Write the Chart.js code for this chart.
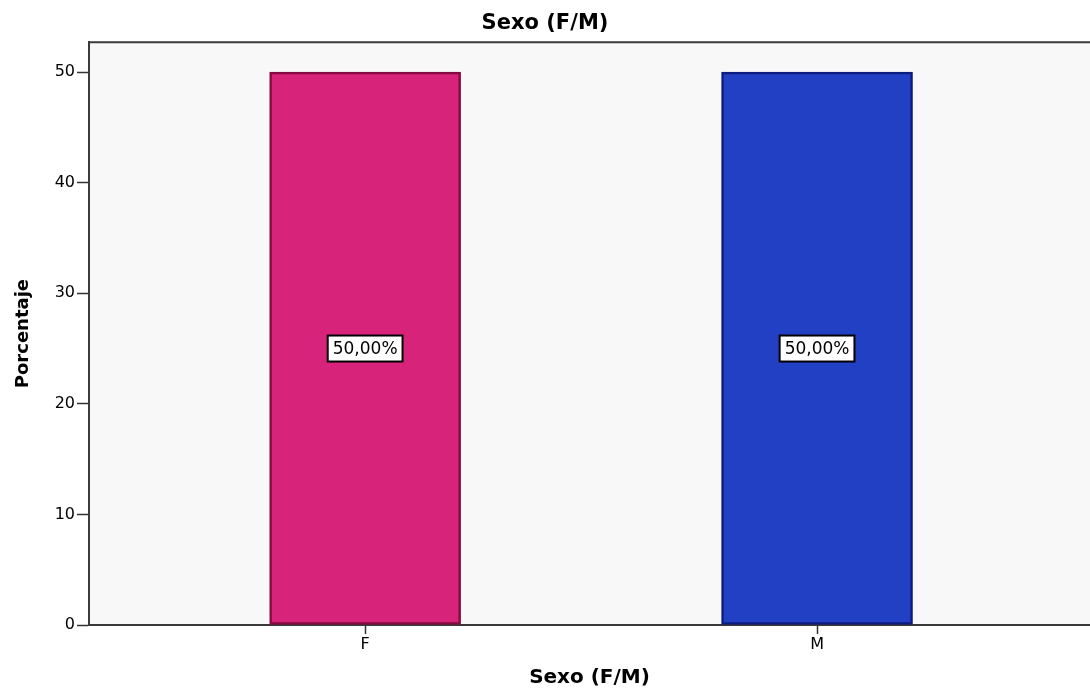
<!DOCTYPE html>
<html>
<head>
<meta charset="utf-8">
<title>Sexo (F/M)</title>
<script src="https://cdn.jsdelivr.net/npm/chart.js@4.4.1/dist/chart.umd.min.js"></script>
<style>
    html, body { margin: 0; padding: 0; background: #fff; overflow: hidden; }
    canvas { display: block; }
</style>
</head>
<body>
<canvas id="sexoChart" width="1090" height="691"></canvas>
<script>
// Chart data
const categorias = ['F', 'M'];
const posiciones = [1, 2];
const porcentajes = [50, 50];
const etiquetas = ['50,00%', '50,00%'];
const yTicks = [0, 10, 20, 30, 40, 50];

const colores = ['#d8237a', '#2240c4'];
const bordes = ['#850a3f', '#0d1c80'];

Chart.defaults.font.family = "'DejaVu Sans', sans-serif";
Chart.defaults.color = '#000';

// Plot background and top frame line
const plotFrame = {
    id: 'plotFrame',
    beforeDraw(chart) {
        const { ctx, chartArea: a } = chart;
        ctx.save();
        ctx.fillStyle = '#f8f8f8';
        ctx.fillRect(a.left, a.top, a.right - a.left, a.bottom - a.top);
        ctx.strokeStyle = '#3a3a3a';
        ctx.lineWidth = 2;
        ctx.beginPath();
        ctx.moveTo(a.left, a.top);
        ctx.lineTo(a.right, a.top);
        ctx.stroke();
        ctx.restore();
    }
};

// Boxed value labels in the middle of each bar
const barLabels = {
    id: 'barLabels',
    afterDatasetsDraw(chart) {
        const { ctx } = chart;
        const yScale = chart.scales.y;
        const meta = chart.getDatasetMeta(0);
        ctx.save();
        ctx.font = "17px 'DejaVu Sans', sans-serif";
        ctx.textAlign = 'center';
        ctx.textBaseline = 'middle';
        meta.data.forEach((bar, i) => {
            const y = yScale.getPixelForValue(porcentajes[i] / 2);
            const w = ctx.measureText(etiquetas[i]).width + 10;
            const h = 26;
            ctx.fillStyle = '#fff';
            ctx.fillRect(bar.x - w / 2, y - h / 2, w, h);
            ctx.strokeStyle = '#000';
            ctx.lineWidth = 2;
            ctx.strokeRect(bar.x - w / 2, y - h / 2, w, h);
            ctx.fillStyle = '#000';
            ctx.fillText(etiquetas[i], bar.x, y + 1);
        });
        ctx.restore();
    }
};

new Chart(document.getElementById('sexoChart'), {
    type: 'bar',
    data: {
        datasets: [{
            label: 'Porcentaje',
            data: posiciones.map((x, i) => ({ x: x, y: porcentajes[i] })),
            backgroundColor: colores,
            borderColor: bordes,
            borderWidth: 2.5,
            borderSkipped: false,
            barThickness: 191
        }]
    },
    plugins: [plotFrame, barLabels],
    options: {
        responsive: false,
        animation: false,
        layout: { padding: 0 },
        plugins: {
            legend: { display: false },
            tooltip: { enabled: false },
            title: {
                display: true,
                text: 'Sexo (F/M)',
                color: '#000',
                font: { size: 21, weight: 'bold' },
                padding: { top: 11, bottom: 6 }
            }
        },
        scales: {
            x: {
                type: 'linear',
                offset: false,
                min: 0.389,
                max: 2.604,
                afterBuildTicks: (scale) => {
                    scale.ticks = posiciones.map(v => ({ value: v }));
                },
                afterFit: (scale) => { scale.height = 66; },
                ticks: {
                    font: { size: 16 },
                    padding: 1,
                    autoSkip: false,
                    maxRotation: 0,
                    callback: (value, index) => categorias[index]
                },
                grid: {
                    offset: false,
                    drawOnChartArea: false,
                    drawTicks: true,
                    tickLength: 9,
                    tickColor: '#333',
                    tickWidth: 1.5
                },
                border: { display: true, color: '#3a3a3a', width: 2 },
                title: {
                    display: true,
                    text: 'Sexo (F/M)',
                    color: '#000',
                    font: { size: 20, weight: 'bold' },
                    padding: { top: 0, bottom: 1 }
                }
            },
            y: {
                min: 0,
                max: 52.7,
                afterBuildTicks: (scale) => {
                    scale.ticks = yTicks.map(v => ({ value: v }));
                },
                afterFit: (scale) => { scale.width = 89; },
                ticks: {
                    font: { size: 16 },
                    padding: 2
                },
                grid: {
                    drawOnChartArea: false,
                    drawTicks: true,
                    tickLength: 12,
                    tickColor: '#333',
                    tickWidth: 1.5
                },
                border: { display: true, color: '#3a3a3a', width: 2 },
                title: {
                    display: true,
                    text: 'Porcentaje',
                    color: '#000',
                    font: { size: 18, weight: 'bold' },
                    padding: { top: 13, bottom: 0 }
                }
            }
        }
    }
});
</script>
</body>
</html>
